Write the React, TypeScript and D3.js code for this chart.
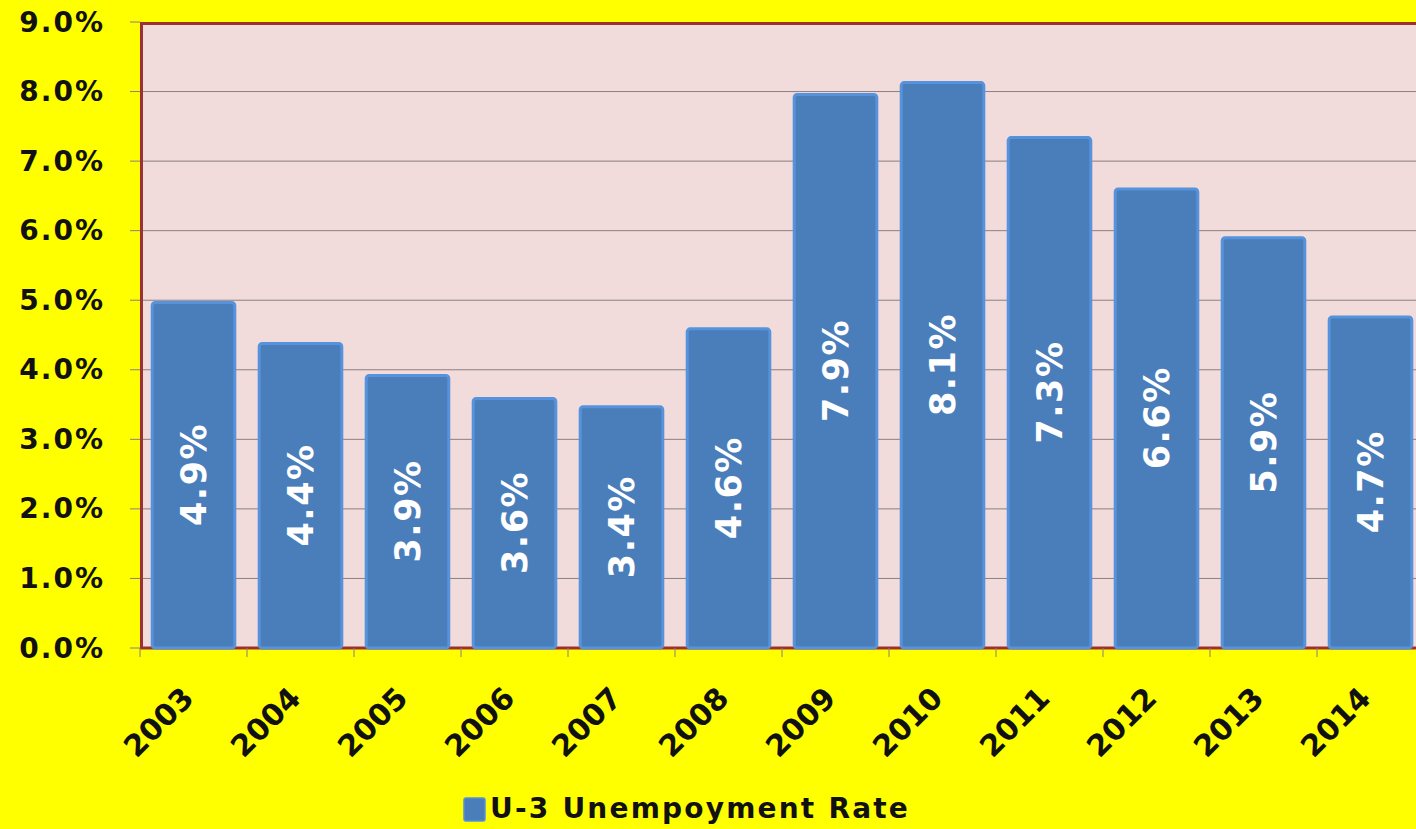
import * as d3 from "d3";

const years = ["2003", "2004", "2005", "2006", "2007", "2008", "2009", "2010", "2011", "2012", "2013", "2014"];
// bar heights (percent)
const rates = [4.99, 4.4, 3.94, 3.61, 3.49, 4.61, 7.98, 8.15, 7.36, 6.62, 5.92, 4.78];
// data labels as printed inside the bars
const rateLabels = ["4.9%", "4.4%", "3.9%", "3.6%", "3.4%", "4.6%", "7.9%", "8.1%", "7.3%", "6.6%", "5.9%", "4.7%"];
const yTicks = [0, 1, 2, 3, 4, 5, 6, 7, 8, 9];
const seriesName = "U-3 Unempoyment Rate";

const W = 1416;
const H = 829;
const FONT = "'DejaVu Sans', Verdana, sans-serif";

export default function App() {
  const left = 140;
  const top = 22;
  const bottom = 648;
  const step = 107;
  const right = left + step * years.length;

  const x = d3.scaleBand<string>()
    .domain(years)
    .range([left, right])
    .paddingInner(0.2)
    .paddingOuter(0.1);

  const y = d3.scaleLinear().domain([0, 9]).range([bottom, top]);

  const boundaries = years.map(d => (x(d) as number) - x.step() * 0.1).concat([right]);

  return (
    <svg
      width={W}
      height={H}
      style={{ position: "absolute", left: 0, top: 0, fontFamily: FONT }}
    >
      <rect x={0} y={0} width={W} height={H} fill="#ffff00" />

      {/* plot area */}
      <rect x={left} y={top} width={right - left} height={bottom - top} fill="#f2dcdb" />

      {/* gridlines + y ticks */}
      {yTicks.map(t => (
        <g key={t}>
          {t > 0 && t < 9 && (
            <line x1={left} x2={right} y1={y(t)} y2={y(t)} stroke="#8a7f80" strokeWidth={1} />
          )}
          <line x1={left - 10} x2={left} y1={y(t)} y2={y(t)} stroke="#8a7f80" strokeWidth={1} />
          <text
            x={105}
            y={y(t)}
            textAnchor="end"
            dominantBaseline="central"
            fontSize={28}
            fontWeight="bold"
            letterSpacing={2}
            fill="#111"
          >
            {t.toFixed(1) + "%"}
          </text>
        </g>
      ))}

      {/* border */}
      <line x1={left} x2={right} y1={top + 1.5} y2={top + 1.5} stroke="#9b3131" strokeWidth={3} />
      <line x1={left + 1.5} x2={left + 1.5} y1={top} y2={bottom} stroke="#9b3131" strokeWidth={3} />
      <line x1={left} x2={right} y1={bottom} y2={bottom} stroke="#9b3131" strokeWidth={3} />

      {/* x ticks */}
      {boundaries.map((b, i) => (
        <line key={i} x1={b} x2={b} y1={bottom} y2={bottom + 9} stroke="#8a7f80" strokeWidth={1} />
      ))}

      {/* bars */}
      {years.map((d, i) => {
        const bx = x(d) as number;
        const bw = x.bandwidth();
        const by = y(rates[i]);
        return (
          <g key={d}>
            <rect
              x={bx + 1.5}
              y={by + 1.5}
              width={bw - 3}
              height={bottom - by - 1.5}
              rx={3}
              fill="#4a7ebb"
              stroke="#5693dc"
              strokeWidth={3}
            />
            <text
              transform={`translate(${bx + bw / 2}, ${(by + bottom) / 2}) rotate(-90)`}
              textAnchor="middle"
              dominantBaseline="central"
              fontSize={35}
              fontWeight="bold"
              letterSpacing={1.5}
              fill="#ffffff"
            >
              {rateLabels[i]}
            </text>
            <text
              transform={`translate(${bx + bw / 2 + 2}, ${bottom + 52}) rotate(-45)`}
              textAnchor="end"
              fontSize={30}
              fontWeight="bold"
              fill="#111"
            >
              {d}
            </text>
          </g>
        );
      })}

      {/* legend */}
      <rect x={464} y={798} width={21} height={23} rx={2} fill="#4a7ebb" stroke="#5693dc" strokeWidth={1.5} />
      <text x={490} y={818} fontSize={28} fontWeight="bold" letterSpacing={2.2} fill="#111">
        {seriesName}
      </text>
    </svg>
  );
}
